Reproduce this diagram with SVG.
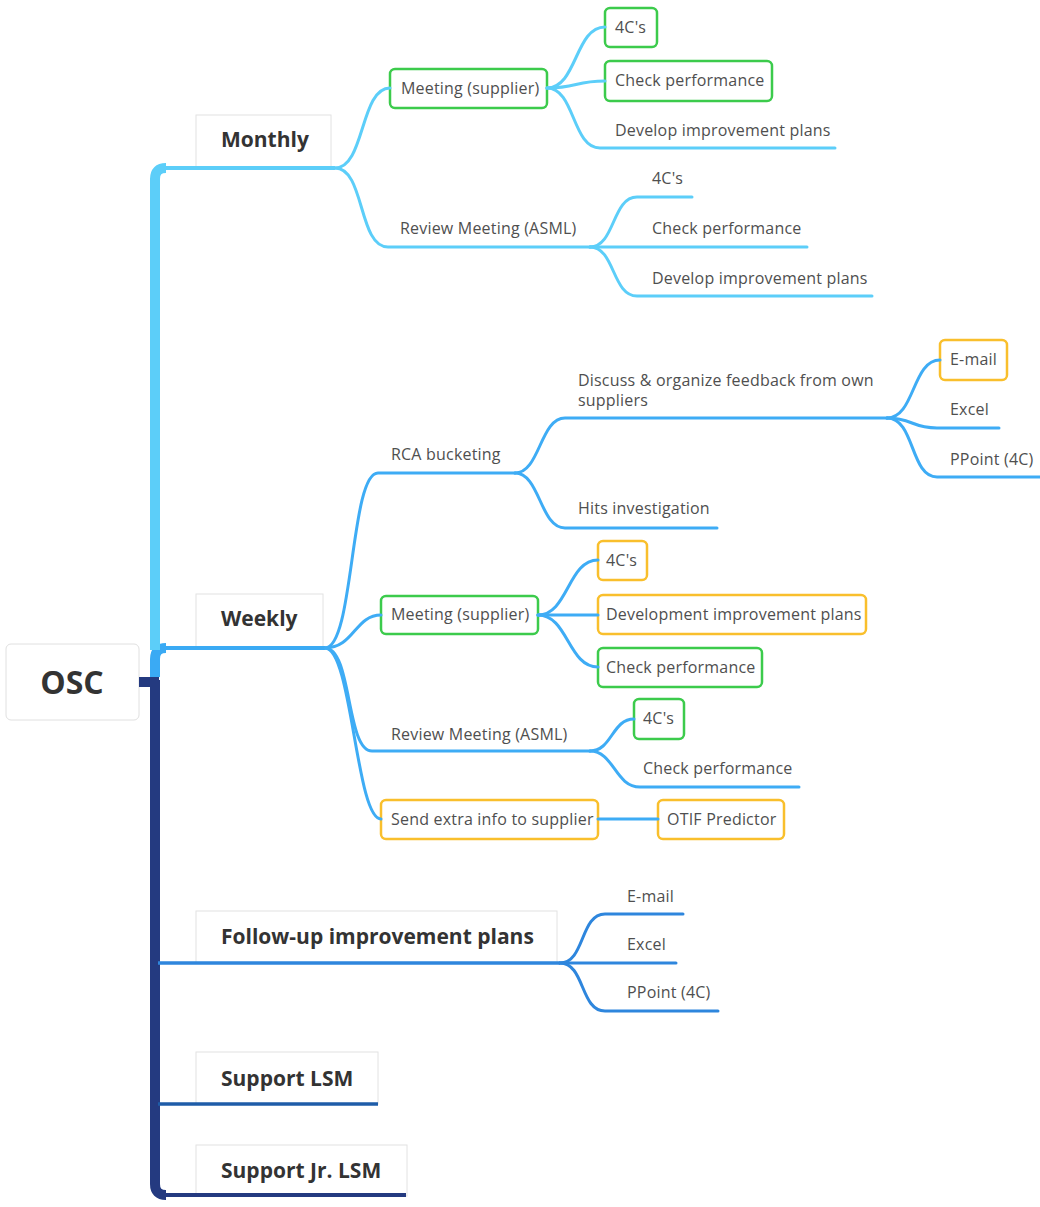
<svg xmlns="http://www.w3.org/2000/svg" width="1040" height="1207" viewBox="0 0 1040 1207">
  <style>
    .topic { fill: #ffffff; stroke: #e2e2e2; stroke-width: 1; }
    .root { fill: #ffffff; stroke: #e0e0e0; stroke-width: 1; }
    .green { fill: #ffffff; stroke: #3ccb4c; stroke-width: 2.5; }
    .amber { fill: #ffffff; stroke: #f9bf2c; stroke-width: 2.5; }
    .t-main { font-family: "Open Sans", "Noto Sans", sans-serif; font-weight: bold; font-size: 21px; fill: #333333; }
    .t-root { font-family: "Open Sans", "Noto Sans", sans-serif; font-weight: bold; font-size: 32px; fill: #333333; }
    .t-sub { font-family: "Open Sans", "Noto Sans", sans-serif; font-size: 16px; letter-spacing: 0.2px; fill: #4f4f4f; }
    .c-month { fill: none; stroke: #5ccef9; stroke-width: 3; stroke-linecap: round; }
    .c-week { fill: none; stroke: #3eacf5; stroke-width: 3; stroke-linecap: round; }
    .c-follow { fill: none; stroke: #2e86dd; stroke-width: 3; stroke-linecap: round; }
  </style>

  <!-- root -->
  <g id="node-osc">
    <rect class="root" x="6" y="644" width="133" height="76" rx="5"/>
    <text class="t-root" x="72" y="694" text-anchor="middle">OSC</text>
  </g>

  <!-- main topics -->
  <g id="node-monthly">
    <rect class="topic" x="196" y="115" width="135" height="52"/>
    <text class="t-main" x="221" y="147">Monthly</text>
  </g>
  <g id="node-weekly">
    <rect class="topic" x="196" y="594" width="127" height="54"/>
    <text class="t-main" x="221" y="626">Weekly</text>
  </g>
  <g id="node-followup">
    <rect class="topic" x="196" y="911" width="361" height="52"/>
    <text class="t-main" x="221" y="944">Follow-up improvement plans</text>
  </g>
  <g id="node-support-lsm">
    <rect class="topic" x="196" y="1052" width="182" height="52"/>
    <text class="t-main" x="221" y="1086">Support LSM</text>
  </g>
  <g id="node-support-jr-lsm">
    <rect class="topic" x="196" y="1145" width="211" height="51"/>
    <text class="t-main" x="221" y="1178">Support Jr. LSM</text>
  </g>

  <!-- Monthly subtree -->
  <g id="node-m-meeting">
    <rect class="green" x="390" y="69" width="157" height="39" rx="5"/>
    <text class="t-sub" x="401" y="94">Meeting (supplier)</text>
  </g>
  <g id="node-m-meeting-4cs">
    <rect class="green" x="605" y="8" width="52" height="39" rx="5"/>
    <text class="t-sub" x="615" y="33">4C's</text>
  </g>
  <g id="node-m-meeting-check">
    <rect class="green" x="605" y="61" width="167" height="40" rx="5"/>
    <text class="t-sub" x="615" y="86">Check performance</text>
  </g>
  <g id="node-m-meeting-develop">
    <text class="t-sub" x="615" y="136">Develop improvement plans</text>
  </g>
  <g id="node-m-review">
    <text class="t-sub" x="400" y="234">Review Meeting (ASML)</text>
  </g>
  <g id="node-m-review-4cs">
    <text class="t-sub" x="652" y="184">4C's</text>
  </g>
  <g id="node-m-review-check">
    <text class="t-sub" x="652" y="234">Check performance</text>
  </g>
  <g id="node-m-review-develop">
    <text class="t-sub" x="652" y="284">Develop improvement plans</text>
  </g>

  <!-- Weekly subtree -->
  <g id="node-w-rca">
    <text class="t-sub" x="391" y="460">RCA bucketing</text>
  </g>
  <g id="node-w-discuss">
    <text class="t-sub" x="578" y="386">Discuss &amp; organize feedback from own</text>
    <text class="t-sub" x="578" y="406">suppliers</text>
  </g>
  <g id="node-w-discuss-email">
    <rect class="amber" x="940" y="340" width="67" height="40" rx="5"/>
    <text class="t-sub" x="950" y="365">E-mail</text>
  </g>
  <g id="node-w-discuss-excel">
    <text class="t-sub" x="950" y="415">Excel</text>
  </g>
  <g id="node-w-discuss-ppoint">
    <text class="t-sub" x="950" y="465">PPoint (4C)</text>
  </g>
  <g id="node-w-hits">
    <text class="t-sub" x="578" y="514">Hits investigation</text>
  </g>
  <g id="node-w-meeting">
    <rect class="green" x="381" y="596" width="157" height="38" rx="5"/>
    <text class="t-sub" x="391" y="620">Meeting (supplier)</text>
  </g>
  <g id="node-w-meeting-4cs">
    <rect class="amber" x="598" y="541" width="49" height="39" rx="5"/>
    <text class="t-sub" x="606" y="566">4C's</text>
  </g>
  <g id="node-w-meeting-develop">
    <rect class="amber" x="598" y="595" width="268" height="39" rx="5"/>
    <text class="t-sub" x="606" y="620">Development improvement plans</text>
  </g>
  <g id="node-w-meeting-check">
    <rect class="green" x="598" y="648" width="164" height="39" rx="5"/>
    <text class="t-sub" x="606" y="673">Check performance</text>
  </g>
  <g id="node-w-review">
    <text class="t-sub" x="391" y="740">Review Meeting (ASML)</text>
  </g>
  <g id="node-w-review-4cs">
    <rect class="green" x="634" y="699" width="50" height="40" rx="5"/>
    <text class="t-sub" x="643" y="724">4C's</text>
  </g>
  <g id="node-w-review-check">
    <text class="t-sub" x="643" y="774">Check performance</text>
  </g>
  <g id="node-w-send">
    <rect class="amber" x="381" y="800" width="217" height="39" rx="5"/>
    <text class="t-sub" x="391" y="825">Send extra info to supplier</text>
  </g>
  <g id="node-w-otif">
    <rect class="amber" x="658" y="800" width="126" height="39" rx="5"/>
    <text class="t-sub" x="667" y="825">OTIF Predictor</text>
  </g>

  <!-- Follow-up subtree -->
  <g id="node-f-email">
    <text class="t-sub" x="627" y="902">E-mail</text>
  </g>
  <g id="node-f-excel">
    <text class="t-sub" x="627" y="950">Excel</text>
  </g>
  <g id="node-f-ppoint">
    <text class="t-sub" x="627" y="998">PPoint (4C)</text>
  </g>

  <!-- connectors -->
  <g id="connectors">
    <!-- spine: longest branch (Support Jr. LSM) drawn first, shorter ones layered above -->
    <path d="M155 680 L155 1184 Q155 1195 166 1195" fill="none" stroke="#243a80" stroke-width="10"/>
    <path d="M160 1195 L406 1195" fill="none" stroke="#243a80" stroke-width="4"/>
    <rect x="139" y="677" width="20" height="10" fill="#243a80"/>
    <path d="M158 1104 L378 1104" fill="none" stroke="#1e5ca8" stroke-width="3.5"/>
    <path d="M158 963 L560 963" fill="none" stroke="#2e86dd" stroke-width="3.5"/>
    <path d="M155 677 L155 659 Q155 648 166 648" fill="none" stroke="#3aaaf4" stroke-width="10"/>
    <path d="M160 648 L325 648" fill="none" stroke="#3aaaf4" stroke-width="4"/>
    <path d="M155 650 L155 179 Q155 168 166 168" fill="none" stroke="#5ccef9" stroke-width="10"/>
    <path d="M160 168 L335 168" fill="none" stroke="#5ccef9" stroke-width="4"/>

    <!-- Monthly -->
    <path class="c-month" d="M335 168 C365 168 360 88 390 88"/>
    <path class="c-month" d="M335 168 C365 168 358 247 388 247 L590 247"/>
    <path class="c-month" d="M547 88 C577 88 575 27 605 27"/>
    <path class="c-month" d="M547 88 C577 88 575 81 605 81"/>
    <path class="c-month" d="M547 88 C575 88 572 148 600 148 L835 148"/>
    <path class="c-month" d="M590 247 C615 247 612 197 637 197 L692 197"/>
    <path class="c-month" d="M590 247 L807 247"/>
    <path class="c-month" d="M590 247 C615 247 612 296 637 296 L872 296"/>

    <!-- Weekly -->
    <path class="c-week" d="M325 648 C354 648 350 473 378 473 L515 473"/>
    <path class="c-week" d="M325 648 C354 648 355 615 381 615"/>
    <path class="c-week" d="M325 648 C352 648 346 751 372 751 L590 751"/>
    <path class="c-week" d="M325 648 C352 648 356 819 381 819"/>
    <path class="c-week" d="M515 473 C540 473 540 418 565 418 L887 418"/>
    <path class="c-week" d="M515 473 C540 473 540 528 565 528 L717 528"/>
    <path class="c-week" d="M887 418 C915 418 912 360 940 360"/>
    <path class="c-week" d="M887 418 C912 418 912 428 937 428 L999 428"/>
    <path class="c-week" d="M887 418 C915 418 910 477 937 477 L1040 477"/>
    <path class="c-week" d="M538 615 C568 615 568 560 598 560"/>
    <path class="c-week" d="M538 615 L598 615"/>
    <path class="c-week" d="M538 615 C568 615 568 667 598 667"/>
    <path class="c-week" d="M590 751 C612 751 612 719 634 719"/>
    <path class="c-week" d="M590 751 C614 751 615 787 640 787 L799 787"/>
    <path class="c-week" d="M598 819 L658 819"/>

    <!-- Follow-up -->
    <path class="c-follow" d="M560 963 C585 963 580 914 605 914 L683 914"/>
    <path class="c-follow" d="M560 963 L676 963"/>
    <path class="c-follow" d="M560 963 C585 963 580 1011 605 1011 L718 1011"/>
  </g>
</svg>
